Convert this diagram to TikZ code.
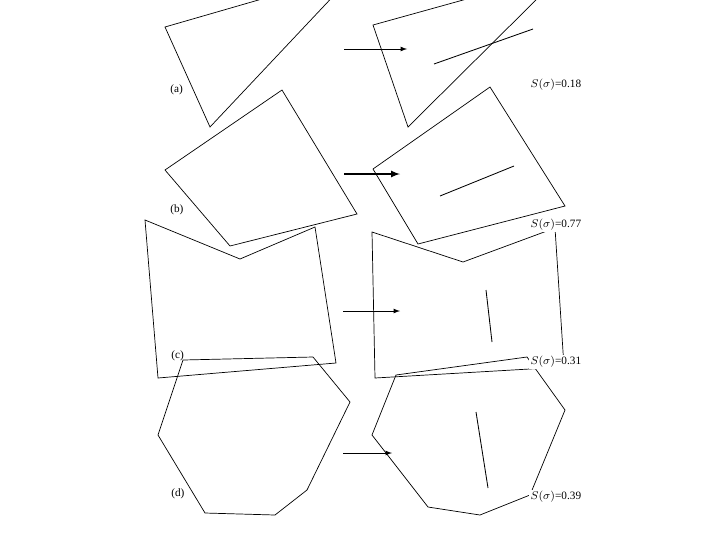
\documentclass[tikz,border=0pt]{standalone}
\usepackage{fontspec}
\setmainfont{Liberation Serif}
\begin{document}
\begin{tikzpicture}[x=0.025cm,y=-0.025cm,
  shp/.style={draw,line width=0.5pt},
  seg/.style={draw,line width=0.6pt},
  arr/.style={draw,-latex,line width=0.6pt},
  lab/.style={font=\footnotesize,inner sep=0pt,anchor=west},
  sv/.style={font=\footnotesize,inner sep=1pt,anchor=west,fill=white}]
\useasboundingbox (0,0) rectangle (720,540);
\clip (0,0) rectangle (720,540);
% (a)
\draw[shp] (165,27) -- (300,-12) -- (340,-11) -- (210,127) -- cycle;
\draw[shp] (373,25) -- (510,-13) -- (546,-10) -- (408,127) -- cycle;
\draw[seg] (434,64) -- (533,29);
\coordinate (a1) at (344,49); \coordinate (a2) at (407,49);
\draw[arr] (a1) -- (a2);
\node[lab] (la) at (170,90) {(a)};
% (b)
\draw[shp] (165,170) -- (282,90) -- (357,214) -- (230,246) -- cycle;
\draw[shp] (373,169) -- (490,87) -- (565,206) -- (418,244) -- cycle;
\draw[seg] (440,196) -- (514,166);
\coordinate (b1) at (344,174); \coordinate (b2) at (400,174);
\draw[arr,line width=1.2pt] (b1) -- (b2);
\node[lab] (lb) at (170,210) {(b)};
% (c)
\draw[shp] (145,220) -- (240,259) -- (315,227) -- (336,363) -- (158,378) -- cycle;
\draw[shp] (372,232) -- (463,262) -- (555,228) -- (564,367) -- (375,378) -- cycle;
\draw[seg] (486,290) -- (492,342);
\coordinate (c1) at (343,311); \coordinate (c2) at (400,311);
\draw[arr] (c1) -- (c2);
% (d)
\draw[shp] (183,360) -- (313,357) -- (350,402) -- (307,490) -- (275,515) -- (205,513) -- (158,435) -- cycle;
\draw[shp] (396,375) -- (527,357) -- (565,410) -- (530,495) -- (480,515) -- (428,507) -- (372,435) -- cycle;
\draw[seg] (476,412) -- (488,488);
\coordinate (d1) at (343,453); \coordinate (d2) at (392,453);
\draw[arr] (d1) -- (d2);
\node[lab] (lc) at (171,356) {(c)};
\node[lab] (ld) at (171,494) {(d)};
% values
\node[sv] (sa) at (529,85) {$S(\sigma)$=0.18};
\node[sv] (sb) at (529,225) {$S(\sigma)$=0.77};
\node[sv] (sc) at (529,362) {$S(\sigma)$=0.31};
\node[sv] (sd) at (529,497) {$S(\sigma)$=0.39};
\end{tikzpicture}
\end{document}
